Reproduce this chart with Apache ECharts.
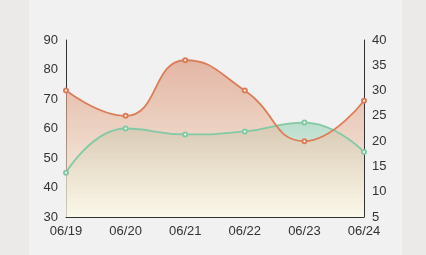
<!DOCTYPE html>
<html>
<head>
<meta charset="utf-8">
<script src="https://cdn.jsdelivr.net/npm/echarts@6/dist/echarts.min.js"></script>
<style>
html,body{margin:0;padding:0;width:426px;height:255px;overflow:hidden;background:#ebeae8;}
#card{position:absolute;left:29px;top:0;width:373px;height:255px;background:#f1f1f1;}
#chart{position:absolute;left:0;top:0;width:426px;height:255px;}
</style>
</head>
<body>
<div id="card"></div>
<div id="chart"></div>
<script>
const categories = ['06/19','06/20','06/21','06/22','06/23','06/24'];
const greenValues = [45, 60, 58, 59, 62, 52];
const orangeValues = [30, 25, 36, 30, 20, 28];
const leftTicks = {min: 30, max: 90, interval: 10};
const rightTicks = {min: 5, max: 40, interval: 5};

const chart = echarts.init(document.getElementById('chart'), null, {renderer: 'canvas'});
const axisLabelStyle = {color: '#333', fontSize: 13, fontFamily: '"Liberation Sans", Arial, sans-serif'};
chart.setOption({
  animation: false,
  backgroundColor: 'transparent',
  grid: {left: 66, right: 62, top: 40, bottom: 38},
  xAxis: {
    type: 'category',
    data: categories,
    boundaryGap: false,
    axisLine: {lineStyle: {color: '#333', width: 1}},
    axisTick: {show: false},
    axisLabel: Object.assign({margin: 8}, axisLabelStyle),
    splitLine: {show: false}
  },
  yAxis: [
    {
      type: 'value',
      min: leftTicks.min, max: leftTicks.max, interval: leftTicks.interval,
      axisLine: {show: true, lineStyle: {color: '#333', width: 1}},
      axisTick: {show: false},
      axisLabel: Object.assign({margin: 8}, axisLabelStyle),
      splitLine: {show: false}
    },
    {
      type: 'value',
      position: 'right',
      min: rightTicks.min, max: rightTicks.max, interval: rightTicks.interval,
      axisLine: {show: true, lineStyle: {color: '#333', width: 1}},
      axisTick: {show: false},
      axisLabel: Object.assign({margin: 8}, axisLabelStyle),
      splitLine: {show: false}
    }
  ],
  series: [
    {
      name: 'green',
      type: 'line',
      yAxisIndex: 0,
      data: greenValues,
      smooth: true,
      symbol: 'emptyCircle',
      symbolSize: 4,
      lineStyle: {color: '#84c9a5', width: 1.8},
      itemStyle: {color: '#84c9a5', borderWidth: 1},
      areaStyle: {
        color: new echarts.graphic.LinearGradient(0, 0, 0, 1, [
          {offset: 0, color: 'rgba(140,206,176,0.8)'},
          {offset: 1, color: 'rgba(252,250,232,0.5)'}
        ])
      }
    },
    {
      name: 'orange',
      type: 'line',
      yAxisIndex: 1,
      data: orangeValues,
      smooth: true,
      symbol: 'emptyCircle',
      symbolSize: 4,
      lineStyle: {color: '#dc7d5a', width: 1.8},
      itemStyle: {color: '#dc7d5a', borderWidth: 1},
      areaStyle: {
        color: new echarts.graphic.LinearGradient(0, 0, 0, 1, [
          {offset: 0, color: 'rgba(218,144,116,0.88)'},
          {offset: 1, color: 'rgba(253,250,230,0.9)'}
        ])
      }
    }
  ]
});
</script>
</body>
</html>
